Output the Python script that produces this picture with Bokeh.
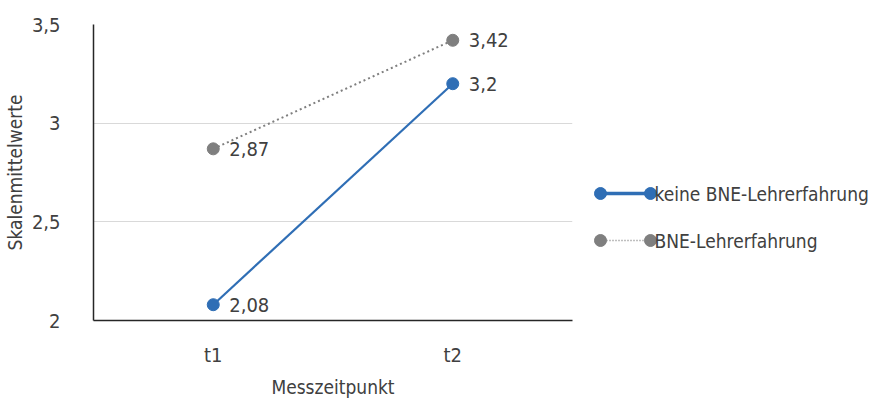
from bokeh.plotting import figure
from bokeh.layouts import row
from bokeh.models import Range1d, FactorRange, FixedTicker, CustomJSTickFormatter, ColumnDataSource
from bokeh.core.properties import value
from bokeh.embed import file_html
from bokeh.resources import INLINE

# ---- data ----
zeitpunkte = ["t1", "t2"]
keine_bne = [2.08, 3.2]
bne = [2.87, 3.42]
serien_namen = ["keine BNE-Lehrerfahrung", "BNE-Lehrerfahrung"]
y_ticks = [2, 2.5, 3, 3.5]

FONT = "DejaVu Sans Condensed"
TXT = "#404040"
BLUE = "#2F6EB5"
GREY = "#7F7F7F"
FS = "20px"
FS_T = "19px"

H = 408
TOP, BOTTOM = 24, 88
W1 = 588
W2 = 871 - W1

def fmt(v):
    return ("%g" % v).replace(".", ",")

p = figure(x_range=FactorRange(*zeitpunkte, range_padding=0), y_range=Range1d(2, 3.5),
           width=W1, height=H, output_backend="svg", toolbar_location=None,
           min_border_left=93, min_border_top=TOP, min_border_bottom=BOTTOM, min_border_right=W1 - 572)
p.outline_line_color = None
p.xgrid.grid_line_color = None
p.ygrid.grid_line_color = "#D9D9D9"
p.ygrid.grid_line_width = 1.2

for ax in (p.xaxis[0], p.yaxis[0]):
    ax.major_tick_line_color = None
    ax.minor_tick_line_color = None
    ax.major_tick_out = 0
    ax.major_tick_in = 0
    ax.minor_tick_out = 0
    ax.axis_line_color = "#262626"
    ax.axis_line_width = 1.5
    ax.major_label_text_font = FONT
    ax.major_label_text_font_size = FS
    ax.major_label_text_color = TXT
    ax.axis_label_text_font = FONT
    ax.axis_label_text_font_size = FS_T
    ax.axis_label_text_color = TXT
    ax.axis_label_text_font_style = "normal"

p.yaxis.ticker = FixedTicker(ticks=y_ticks)
p.yaxis.formatter = CustomJSTickFormatter(code="return tick.toString().replace('.', ',');")
p.yaxis.axis_label = "Skalenmittelwerte"
p.yaxis.major_label_standoff = 33
p.yaxis.axis_label_standoff = 3
p.xaxis.axis_label = "Messzeitpunkt"
p.xaxis.major_label_standoff = 22
p.xaxis.axis_label_standoff = 6

src1 = ColumnDataSource(dict(x=zeitpunkte, y=keine_bne, lab=[fmt(v) for v in keine_bne]))
src2 = ColumnDataSource(dict(x=zeitpunkte, y=bne, lab=[fmt(v) for v in bne]))

p.line("x", "y", source=src2, line_color=GREY, line_width=2, line_dash="2 3")
p.scatter("x", "y", source=src2, size=12, color=GREY)
p.line("x", "y", source=src1, line_color=BLUE, line_width=2.2)
p.scatter("x", "y", source=src1, size=12, color=BLUE)

for s in (src1, src2):
    p.text("x", "y", text="lab", source=s, x_offset=16, text_baseline="middle",
           text_font=value(FONT), text_font_size=FS, text_color=TXT)

# ---- legend panel (y in page pixels) ----
lg = figure(x_range=Range1d(0, W2), y_range=Range1d(H - BOTTOM, TOP), width=W2, height=H,
            output_backend="svg", toolbar_location=None,
            min_border_left=0, min_border_right=0, min_border_top=TOP, min_border_bottom=BOTTOM)
lg.axis.visible = False
lg.grid.visible = False
lg.outline_line_color = None

rows_y = [193, 240]
lg.line([12, 62], [rows_y[0]] * 2, line_color=BLUE, line_width=3.5)
lg.scatter([12, 62], [rows_y[0]] * 2, size=12, color=BLUE)
lg.line([12, 62], [rows_y[1]] * 2, line_color=GREY, line_width=1.5, line_dash="1 2")
lg.scatter([12, 62], [rows_y[1]] * 2, size=12, color=GREY)
lg.text([66, 66], rows_y, text=serien_namen, text_baseline="middle",
        text_font=value(FONT), text_font_size=FS_T, text_color=TXT)

layout = row(p, lg, spacing=0)
open("out.html", "w").write(file_html(layout, INLINE))
